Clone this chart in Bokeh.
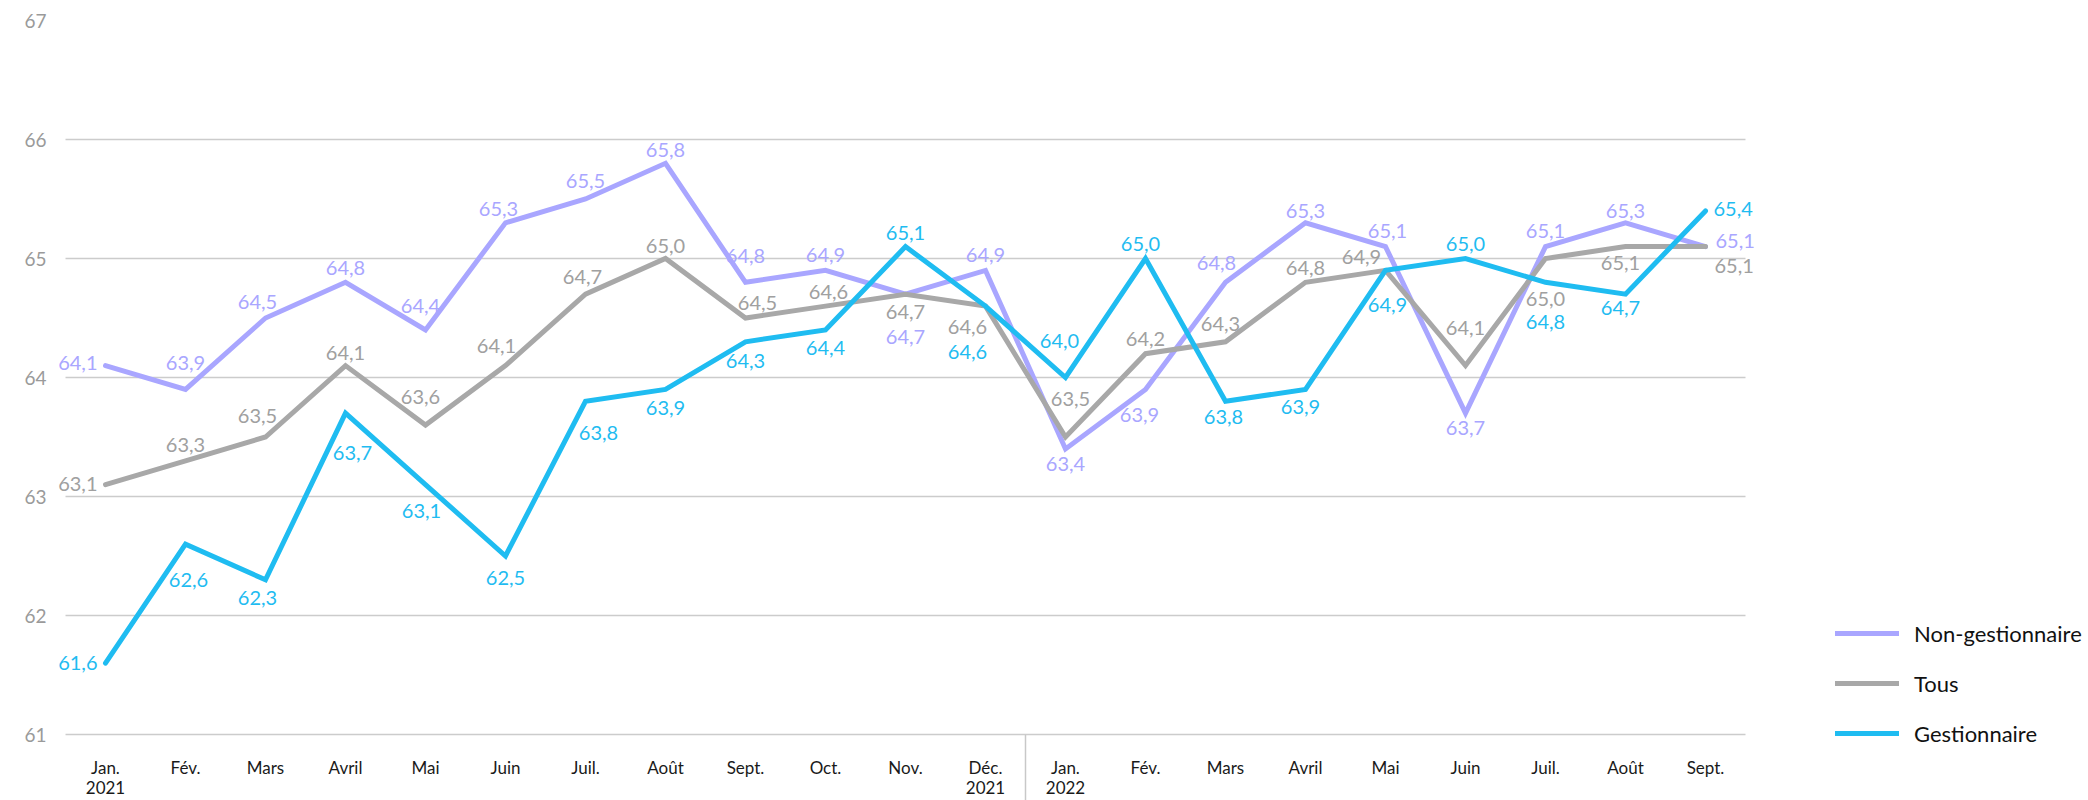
from bokeh.plotting import figure
from bokeh.models import (ColumnDataSource, LabelSet, Legend, LegendItem, Range1d,
                          FixedTicker, LinearAxis)
from bokeh.core.properties import field, value
from bokeh.embed import file_html
from bokeh.resources import INLINE

# ---------------- data ----------------
months = ["Jan.", "Fév.", "Mars", "Avril", "Mai", "Juin", "Juil.", "Août", "Sept.",
          "Oct.", "Nov.", "Déc.",
          "Jan.", "Fév.", "Mars", "Avril", "Mai", "Juin", "Juil.", "Août", "Sept."]
year_labels = {0: "2021", 11: "2021", 12: "2022"}
year_break = [11.5]
y_ticks = [61, 62, 63, 64, 65, 66, 67]

non_gest = [64.1, 63.9, 64.5, 64.8, 64.4, 65.3, 65.5, 65.8, 64.8, 64.9, 64.7, 64.9,
            63.4, 63.9, 64.8, 65.3, 65.1, 63.7, 65.1, 65.3, 65.1]
tous = [63.1, 63.3, 63.5, 64.1, 63.6, 64.1, 64.7, 65.0, 64.5, 64.6, 64.7, 64.6,
        63.5, 64.2, 64.3, 64.8, 64.9, 64.1, 65.0, 65.1, 65.1]
gest = [61.6, 62.6, 62.3, 63.7, 63.1, 62.5, 63.8, 63.9, 64.3, 64.4, 65.1, 64.6,
        64.0, 65.0, 63.8, 63.9, 64.9, 65.0, 64.8, 64.7, 65.4]

series_names = ["Non-gestionnaire", "Tous", "Gestionnaire"]

# ---------------- label placement (screen px: dx right, dy down) ----------------
non_gest_dx = [-8, 0, -8, 0, -5, -7, 0, 0, 0, 0, 0, 0, 0, -6, -9, 0, 2, 0, 0, 0, 10]
non_gest_dy = [-3, -26, -16, -14, -24, -14, -18, -13, -26, -15, 43, -15, 15, 26, -19, -12, -16, 15, -16, -12, -6]
tous_dx = [-8, 0, -8, 0, -5, -9, -3, 0, 12, 3, 0, -18, 5, 0, -5, 0, -24, 0, 0, -5, 9]
tous_dy = [-1, -16, -21, -13, -28, -20, -17, -13, -15, -14, 18, 21, -38, -15, -18, -14, -13, -38, 40, 16, 19]
gest_dx = [-8, 3, -8, 7, -4, 0, 13, 0, 0, 0, 0, -18, -6, -5, -2, -5, 2, 0, 0, -5, 8]
gest_dy = [0, 36, 18, 40, 26, 22, 32, 19, 19, 18, -14, 46, -37, -15, 16, 18, 35, -15, 40, 14, -2]

COL_NG = "#a9a6ff"
COL_T = "#a8a8a8"
COL_G = "#1fbcf1"
LBL_T = "#a0a0a0"
AXIS_TXT = "#1a1a1a"
FONT = "Lato"

# frame: left edge 15 px before first month, right edge at canvas edge,
# bottom at canvas edge (x labels are drawn by axes fixed at y = 61)
p = figure(width=2088, height=800,
           x_range=Range1d(-0.6875, 24.7875), y_range=Range1d(60.4454, 67),
           x_axis_type=None,
           output_backend="svg", toolbar_location=None,
           min_border_left=50, min_border_right=0,
           min_border_top=20, min_border_bottom=0)
p.outline_line_color = None
p.background_fill_color = "white"

# y axis
p.yaxis.ticker = FixedTicker(ticks=y_ticks)
p.yaxis.axis_line_color = None
p.yaxis.major_tick_line_color = None
p.yaxis.minor_tick_line_color = None
p.yaxis.major_tick_out = 0
p.yaxis.major_tick_in = 0
p.yaxis.minor_tick_out = 0
p.yaxis.minor_tick_in = 0
p.yaxis.major_label_standoff = 4
p.yaxis.major_label_text_font = FONT
p.yaxis.major_label_text_font_size = "19px"
p.yaxis.major_label_text_color = "#9a9a9a"
p.ygrid.ticker = FixedTicker(ticks=y_ticks)
p.ygrid.grid_line_color = "#cccccc"
p.ygrid.grid_line_width = 1.5
p.ygrid.cross_bounds = (-0.5, len(months) - 0.5)


def bottom_axis(ticker, overrides, standoff, **kw):
    ax = LinearAxis(ticker=ticker, major_label_overrides=overrides,
                    fixed_location=y_ticks[0],
                    axis_line_color=None, major_tick_line_color=None,
                    major_tick_in=0, major_tick_out=0,
                    minor_tick_in=0, minor_tick_out=0,
                    minor_tick_line_color=None,
                    major_label_standoff=standoff,
                    major_label_text_font=FONT, major_label_text_font_size="17px",
                    major_label_text_color=AXIS_TXT)
    ax.update(**kw)
    p.add_layout(ax, "below")
    return ax


bottom_axis(FixedTicker(ticks=list(range(len(months)))),
            {i: m for i, m in enumerate(months)}, 22)
bottom_axis(FixedTicker(ticks=list(year_labels.keys())), year_labels, 46)
# year separator: a single long tick below the 61 line
bottom_axis(FixedTicker(ticks=year_break), {t: "" for t in year_break}, 0,
            major_tick_out=80, major_tick_line_color="#c8c8c8", major_tick_line_width=1.5)

idx = list(range(len(months)))
renderers = []
for vals, col, lcol, dxs, dys in [(non_gest, COL_NG, COL_NG, non_gest_dx, non_gest_dy),
                                  (tous, COL_T, LBL_T, tous_dx, tous_dy),
                                  (gest, COL_G, COL_G, gest_dx, gest_dy)]:
    r = p.line(idx, vals, line_color=col, line_width=5, line_join="miter", line_cap="round")
    renderers.append(r)
    n = len(vals)
    align = ["center"] * n
    align[0] = "right"
    align[-1] = "left"
    src = ColumnDataSource(dict(x=idx, y=vals,
                                text=[f"{v:.1f}".replace(".", ",") for v in vals],
                                xo=dxs, yo=[-d for d in dys], align=align))
    ls = LabelSet(x="x", y="y", text="text", source=src,
                  x_offset="xo", y_offset="yo",
                  text_align=field("align"), text_baseline="middle",
                  text_font=value(FONT), text_font_size="20px", text_color=lcol)
    p.add_layout(ls)

legend = Legend(items=[LegendItem(label=n, renderers=[r]) for n, r in zip(series_names, renderers)],
                location=(1785, 47), orientation="vertical",
                glyph_width=64, glyph_height=40, label_standoff=15, spacing=10,
                padding=0, margin=0, border_line_color=None, background_fill_alpha=0,
                label_text_font=FONT, label_text_font_size="22px", label_text_color="#111111")
p.add_layout(legend, "center")

open("out.html", "w").write(file_html(p, INLINE))
